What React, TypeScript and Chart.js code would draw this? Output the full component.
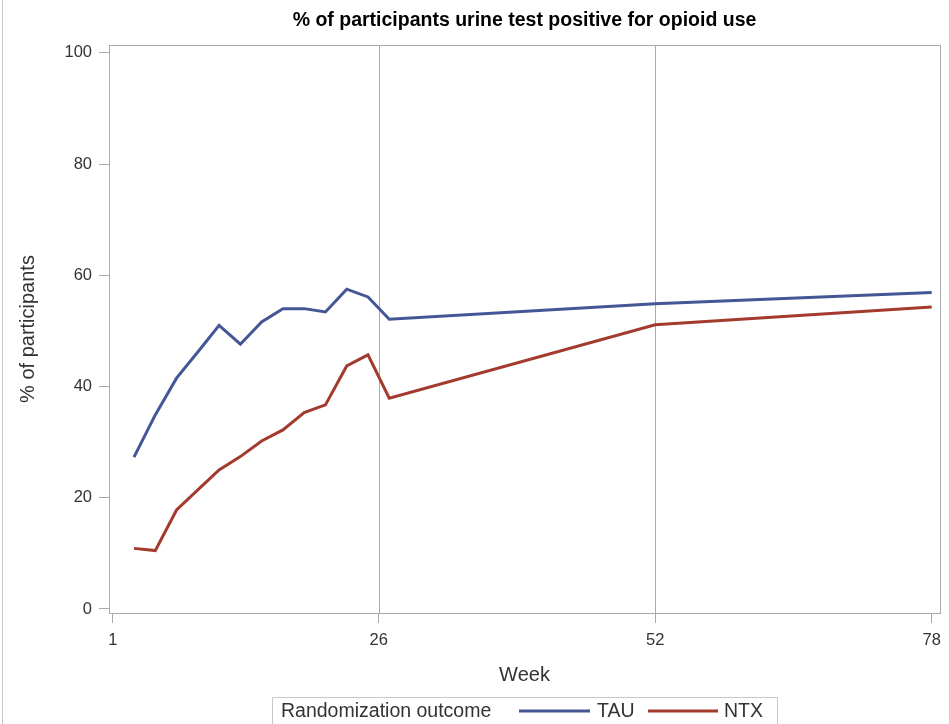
import React, { useEffect, useRef } from "react";
import { Chart, registerables } from "chart.js";

Chart.register(...registerables);

const weeks = [3, 5, 7, 9, 11, 13, 15, 17, 19, 21, 23, 25, 27, 52, 78];
const tauValues = [27.3, 34.9, 41.5, 46.2, 51.0, 47.6, 51.6, 54.0, 54.0, 53.4, 57.5, 56.1, 52.1, 54.9, 56.9];
const ntxValues = [10.9, 10.5, 17.8, 21.4, 25.0, 27.4, 30.2, 32.2, 35.3, 36.7, 43.7, 45.7, 37.9, 51.1, 54.3];
const xTicks = [1, 26, 52, 78];
const yTicks = [0, 20, 40, 60, 80, 100];
const refLines = [26, 52];
const seriesLabels = ["TAU", "NTX"];
const seriesColors = ["#445694", "#A23A2E"];

const titleText = "% of participants urine test positive for opioid use";
const xTitle = "Week";
const yTitle = "% of participants";
const legendTitle = "Randomization outcome";

const FONT = "'Liberation Sans', Arial, sans-serif";
const AXIS_GRAY = "#a6abb0";

const decorPlugin = {
  id: "decor",
  beforeDatasetsDraw(chart: any) {
    const { ctx, chartArea, scales } = chart;
    ctx.save();
    ctx.strokeStyle = AXIS_GRAY;
    ctx.lineWidth = 1;
    refLines.forEach((w) => {
      const px = Math.round(scales.x.getPixelForValue(w)) + 0.5;
      ctx.beginPath();
      ctx.moveTo(px, chartArea.top);
      ctx.lineTo(px, chartArea.bottom);
      ctx.stroke();
    });
    ctx.strokeRect(
      Math.round(chartArea.left) + 0.5,
      Math.round(chartArea.top) + 0.5,
      Math.round(chartArea.right - chartArea.left),
      Math.round(chartArea.bottom - chartArea.top)
    );
    ctx.restore();
  },
  afterDraw(chart: any) {
    const { ctx, chartArea } = chart;
    const cx = (chartArea.left + chartArea.right) / 2;
    ctx.save();
    // page edge line
    ctx.fillStyle = "#c8c8c8";
    ctx.fillRect(2, 0, 1, chart.height);
    // title
    ctx.fillStyle = "#000";
    ctx.font = `bold 19.5px ${FONT}`;
    ctx.textAlign = "center";
    ctx.textBaseline = "middle";
    ctx.fillText(titleText, cx, 21);
    // x title
    ctx.fillStyle = "#333";
    ctx.font = `20px ${FONT}`;
    ctx.fillText(xTitle, cx, 675);
    // y title
    ctx.save();
    ctx.translate(28, 329);
    ctx.rotate(-Math.PI / 2);
    ctx.fillText(yTitle, 0, 0);
    ctx.restore();
    // legend
    const boxL = 272.5, boxR = 777.5, boxT = 697.5;
    ctx.strokeStyle = "#c8c8c8";
    ctx.lineWidth = 1;
    ctx.beginPath();
    ctx.moveTo(boxL, chart.height + 2);
    ctx.lineTo(boxL, boxT);
    ctx.lineTo(boxR, boxT);
    ctx.lineTo(boxR, chart.height + 2);
    ctx.stroke();
    const ly = 711;
    ctx.font = `19.5px ${FONT}`;
    ctx.textAlign = "left";
    ctx.fillStyle = "#333";
    ctx.fillText(legendTitle, 281, ly + 1);
    const items = [
      { x0: 519, x1: 590, tx: 597 },
      { x0: 648, x1: 718, tx: 724 },
    ];
    items.forEach((it, i) => {
      ctx.strokeStyle = seriesColors[i];
      ctx.lineWidth = 3;
      ctx.beginPath();
      ctx.moveTo(it.x0, ly);
      ctx.lineTo(it.x1, ly);
      ctx.stroke();
      ctx.fillStyle = "#333";
      ctx.fillText(seriesLabels[i], it.tx, ly + 1);
    });
    ctx.restore();
  },
};

export default function App() {
  const ref = useRef<HTMLCanvasElement>(null);
  useEffect(() => {
    if (!ref.current) return;
    const chart = new Chart(ref.current, {
      type: "line",
      data: {
        datasets: [tauValues, ntxValues].map((vals, i) => ({
          label: seriesLabels[i],
          data: weeks.map((w, j) => ({ x: w, y: vals[j] })),
          borderColor: seriesColors[i],
          backgroundColor: seriesColors[i],
          borderWidth: 3,
          pointRadius: 0,
          tension: 0,
          fill: false,
        })),
      },
      options: {
        animation: false,
        responsive: false,
        maintainAspectRatio: false,
        layout: { padding: { top: 45, right: 9, left: 0, bottom: 0 } },
        plugins: {
          legend: { display: false },
          title: { display: false },
          tooltip: { enabled: false },
        },
        scales: {
          x: {
            type: "linear",
            min: 0.65,
            max: 78.78,
            afterBuildTicks: (s: any) => {
              s.ticks = xTicks.map((v) => ({ value: v }));
            },
            afterFit: (s: any) => {
              s.height = 111;
            },
            grid: { drawOnChartArea: false, drawTicks: true, tickLength: 10, color: AXIS_GRAY },
            border: { display: false },
            ticks: {
              color: "#333",
              font: { family: FONT, size: 16.5 },
              padding: 8,
              maxRotation: 0,
              autoSkip: false,
            },
          },
          y: {
            type: "linear",
            min: -0.72,
            max: 101.4,
            afterBuildTicks: (s: any) => {
              s.ticks = yTicks.map((v) => ({ value: v }));
            },
            afterFit: (s: any) => {
              s.width = 109;
            },
            grid: { drawOnChartArea: false, drawTicks: true, tickLength: 10, color: AXIS_GRAY },
            border: { display: false },
            ticks: {
              color: "#333",
              font: { family: FONT, size: 16.5 },
              padding: 7,
              autoSkip: false,
            },
          },
        },
      },
      plugins: [decorPlugin],
    });
    return () => chart.destroy();
  }, []);
  return (
    <div style={{ position: "absolute", left: 0, top: 0, width: 949, height: 724, background: "#fff" }}>
      <canvas ref={ref} width={949} height={724} style={{ width: 949, height: 724, display: "block" }} />
    </div>
  );
}
